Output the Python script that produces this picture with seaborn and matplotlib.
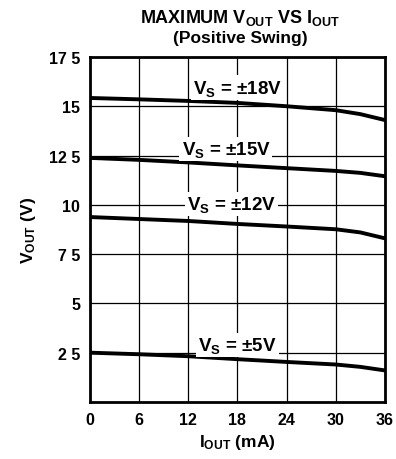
import numpy as np
import pandas as pd
import matplotlib
matplotlib.use("Agg")
import matplotlib.pyplot as plt
import seaborn as sns

# Data
iout = [0, 6, 12, 18, 24, 30, 33, 36]
vout_18 = [15.42, 15.35, 15.27, 15.17, 15.0, 14.8, 14.6, 14.3]
vout_15 = [12.38, 12.28, 12.15, 12.0, 11.86, 11.72, 11.62, 11.45]
vout_12 = [9.38, 9.28, 9.18, 9.03, 8.9, 8.76, 8.6, 8.3]
vout_5 = [2.5, 2.42, 2.32, 2.17, 2.03, 1.9, 1.78, 1.6]
supplies = ["±18V", "±15V", "±12V", "±5V"]
label_x = [18.0, 16.6, 17.3, 18.0]
label_y = [15.95, 12.85, 10.05, 2.9]
x_ticks = [0, 6, 12, 18, 24, 30, 36]
y_ticks = [2.5, 5, 7.5, 10, 12.5, 15, 17.5]
y_ticklabels = ["2 5", "5", "7 5", "10", "12 5", "15", "17 5"]

sns.set_theme(style="white")
plt.rcParams["font.family"] = ["Liberation Sans", "DejaVu Sans"]
plt.rcParams["font.weight"] = "bold"
plt.rcParams["mathtext.fontset"] = "custom"
plt.rcParams["mathtext.rm"] = "Liberation Sans:bold"
plt.rcParams["mathtext.it"] = "Liberation Sans:bold"
plt.rcParams["mathtext.bf"] = "Liberation Sans:bold"

rows = []
for s, vals in zip(supplies, [vout_18, vout_15, vout_12, vout_5]):
    for x, v in zip(iout, vals):
        rows.append({"Iout": x, "Vout": v, "Supply": s})
df = pd.DataFrame(rows)

fig = plt.figure(figsize=(3.96, 4.60), dpi=100)
ax = fig.add_axes([0.227, 0.124, 0.745, 0.750])

ax.set_xlim(0, 36)
ax.set_ylim(0, 17.5)
ax.set_xticks(x_ticks)
ax.set_yticks(y_ticks)
ax.set_yticklabels(y_ticklabels)
ax.grid(True, color="black", linewidth=0.9)
ax.set_axisbelow(True)

sns.lineplot(data=df, x="Iout", y="Vout", hue="Supply",
             palette=["black"] * 4, linewidth=2.8, legend=False, ax=ax,
             zorder=3)

for s, lx, ly in zip(supplies, label_x, label_y):
    ax.text(lx, ly, r"V$_{\mathrm{S}}$ = " + s, ha="center", va="center",
            fontsize=13.5, fontweight="bold", color="black", zorder=4,
            bbox=dict(facecolor="white", edgecolor="none", pad=1.5))

for sp in ax.spines.values():
    sp.set_color("black")
    sp.set_linewidth(2.0)

ax.tick_params(axis="both", length=0, labelsize=11.5, colors="black", pad=7)
for lab in ax.get_xticklabels() + ax.get_yticklabels():
    lab.set_fontweight("bold")
ax.set_xlabel(r"I$_{\mathrm{OUT}}$ (mA)", fontsize=12.5, fontweight="bold",
              color="black", labelpad=4)
ax.set_ylabel(r"V$_{\mathrm{OUT}}$ (V)", fontsize=12.5, fontweight="bold",
              color="black", labelpad=8)

fig.text(0.606, 0.961, r"MAXIMUM V$_{\mathrm{OUT}}$ VS I$_{\mathrm{OUT}}$",
         ha="center", va="center", fontsize=13, fontweight="bold", color="black")
fig.text(0.606, 0.917, "(Positive Swing)", ha="center", va="center",
         fontsize=12.5, fontweight="bold", color="black")

fig.savefig("out.png", dpi=100, facecolor="white")
